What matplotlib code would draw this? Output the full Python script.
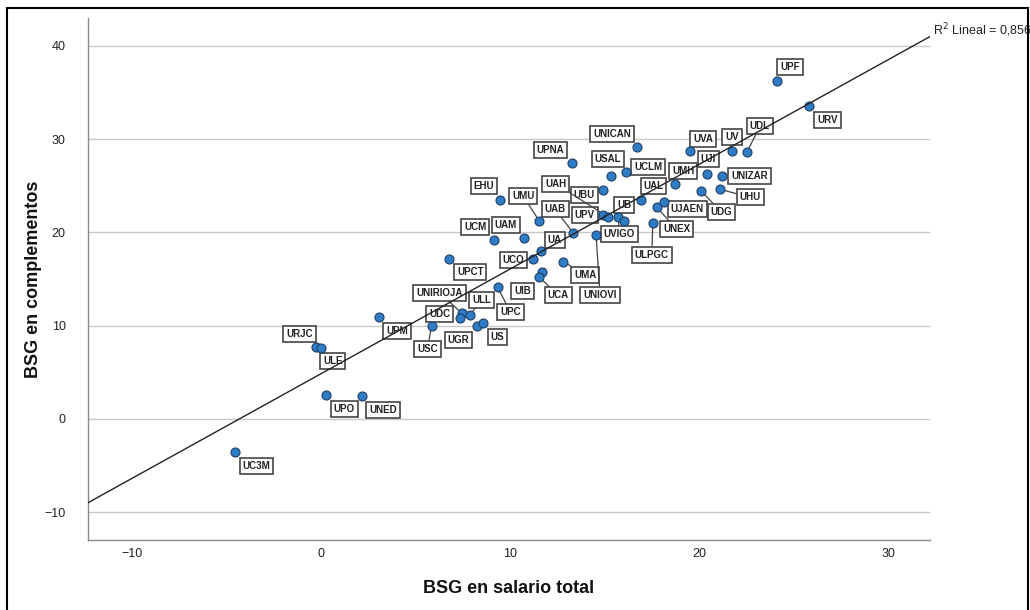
import numpy as np
import matplotlib
matplotlib.use("Agg")
import matplotlib.pyplot as plt
from matplotlib.patches import Rectangle

plt.rcParams['font.family'] = ['Liberation Sans', 'DejaVu Sans']

# ─── datos ──────────────────────────────────────────────
universidades = ['UC3M', 'URJC', 'ULE', 'UPO', 'UNED', 'UPM', 'USC', 'UNIRIOJA',
                 'UDC', 'ULL', 'UGR', 'US', 'UPC', 'UPCT', 'UIB', 'UCA', 'UMA',
                 'UNIOVI', 'UCO', 'UA', 'UCM', 'UAM', 'EHU', 'UMU', 'UAB', 'UPNA',
                 'UNICAN', 'USAL', 'UCLM', 'UBU', 'UPV', 'UAH', 'UVIGO', 'UB',
                 'UAL', 'UNEX', 'UJAEN', 'ULPGC', 'UMH', 'UJI', 'UNIZAR', 'UHU',
                 'UDG', 'UVA', 'UV', 'UDL', 'UPF', 'URV']
bsg_salario = [-4.55, -0.23, 0.00, 0.30, 2.19, 3.07, 5.86, 7.44,
               7.35, 7.88, 8.24, 8.59, 9.35, 6.79, 11.68, 11.55, 12.82,
               14.55, 11.24, 11.62, 9.17, 10.74, 9.47, 11.55, 13.35, 13.26,
               16.73, 15.33, 16.14, 14.94, 14.90, 15.16, 15.73, 16.05,
               16.90, 17.76, 18.15, 17.55, 18.73, 20.44, 21.23, 21.11,
               20.11, 19.52, 21.73, 22.52, 24.11, 25.78]
bsg_complementos = [-3.54, 7.74, 7.57, 2.57, 2.47, 10.96, 10.00, 11.37,
                    10.79, 11.15, 10.00, 10.25, 14.10, 17.15, 15.79, 15.19, 16.86,
                    19.72, 17.15, 18.04, 19.19, 19.37, 23.47, 21.22, 19.90, 27.47,
                    29.18, 26.08, 26.47, 24.54, 21.86, 21.68, 21.62, 21.25,
                    23.45, 22.69, 23.23, 21.04, 25.15, 26.26, 26.04, 24.62,
                    24.44, 28.72, 28.72, 28.58, 36.26, 33.55]
r2_lineal = 0.856
xticks = [-10, 0, 10, 20, 30]
yticks = [-10, 0, 10, 20, 30, 40]

# ─── posición de etiquetas (desplazamiento en píxeles, y hacia abajo) ───
offsets = {
    'UC3M': (22, 14), 'URJC': (-17, -13), 'ULE': (12, 13), 'UPO': (18, 14),
    'UNED': (21, 14), 'UPM': (18, 14), 'USC': (-4, 23), 'UNIRIOJA': (-22, -20),
    'UDC': (-20, -4), 'ULL': (12, -15), 'UGR': (-18, 14), 'US': (14, 14),
    'UPC': (13, 25), 'UPCT': (21, 13), 'UIB': (-19, 19), 'UCA': (19, 18),
    'UMA': (22, 13), 'UNIOVI': (4, 60), 'UCO': (-20, 1), 'UA': (14, -11),
    'UCM': (-19, -13), 'UAM': (-18, -13), 'EHU': (-16, -14), 'UMU': (-16, -25),
    'UAB': (-18, -24), 'UPNA': (-21, -13), 'UNICAN': (-25, -13), 'USAL': (-3, -17),
    'UCLM': (22, -5), 'UBU': (-19, 5), 'UPV': (-18, 0), 'UAH': (-52, -33),
    'UVIGO': (1, 17), 'UB': (0, -16), 'UAL': (13, -14), 'UNEX': (20, 22),
    'UJAEN': (23, 7), 'ULPGC': (-1, 32), 'UMH': (8, -13), 'UJI': (1, -15),
    'UNIZAR': (27, 0), 'UHU': (30, 8), 'UDG': (20, 21), 'UVA': (13, -12),
    'UV': (0, -14), 'UDL': (13, -26), 'UPF': (13, -14), 'URV': (19, 14),
}
enlazadas = ['USC', 'UNIRIOJA', 'ULL', 'UPC', 'UCA', 'UNIOVI', 'UMA', 'UMU',
             'UAB', 'UAH', 'UNEX', 'ULPGC', 'UHU', 'UDG', 'UDL', 'UVIGO']

fig = plt.figure(figsize=(10.3, 6.1), dpi=100)
ax = fig.add_axes([88 / 1030, 1 - 540 / 610, (930 - 88) / 1030, (540 - 18) / 610])

ax.set_xlim(-12.3, 32.2)
ax.set_ylim(-13.0, 43.0)

# rejilla horizontal
ax.set_axisbelow(True)
ax.yaxis.grid(True, color='#c8c8c8', linewidth=1.0)
for s in ['top', 'right']:
    ax.spines[s].set_visible(False)
for s in ['left', 'bottom']:
    ax.spines[s].set_color('#8a8a8a')
    ax.spines[s].set_linewidth(1.0)

ax.set_xticks(xticks)
ax.set_yticks(yticks)
ax.tick_params(axis='both', length=0, labelsize=9, labelcolor='#222222')
ax.tick_params(axis='y', pad=16)
ax.tick_params(axis='x', pad=6)

# etiquetas
for name, xv, yv in zip(universidades, bsg_salario, bsg_complementos):
    dx, dy = offsets[name]
    kw = {}
    if name in enlazadas:
        kw['arrowprops'] = dict(arrowstyle='-', color='#444444', lw=0.9,
                                shrinkA=0, shrinkB=3)
    ax.annotate(name, (xv, yv), xytext=(dx, -dy), textcoords='offset pixels',
                ha='center', va='center', fontsize=7, fontweight='bold',
                color='#222222', zorder=3,
                bbox=dict(boxstyle='square,pad=0.3', fc='white',
                          ec='#444444', lw=1.2), **kw)

# puntos
ax.scatter(bsg_salario, bsg_complementos, s=42, color='#2f7cc4',
           edgecolor='#1b3f66', linewidth=0.8, zorder=4)

# recta de regresión
pend, orig = np.polyfit(bsg_salario, bsg_complementos, 1)
xl = np.array(ax.get_xlim())
ax.plot(xl, orig + pend * xl, color='#222222', lw=1.0, zorder=5)
ax.annotate('R$^2$ Lineal = ' + f'{r2_lineal:.3f}'.replace('.', ','),
            (xl[1], orig + pend * xl[1]), xytext=(3, 6),
            textcoords='offset pixels', ha='left', va='center',
            fontsize=9, color='#222222', annotation_clip=False)

ax.set_xlabel('BSG en salario total', fontsize=13, fontweight='bold',
              labelpad=14, color='#111111')
ax.set_ylabel('BSG en complementos', fontsize=13, fontweight='bold',
              color='#111111')
ax.yaxis.set_label_coords(-0.055, 0.5)

# marco negro exterior
fig.patches.append(Rectangle((7 / 1030, -0.01), 1021 / 1030, 1.01 - 8 / 610,
                             transform=fig.transFigure, fill=False,
                             ec='black', lw=1.5))

fig.savefig('out.png', dpi=100)
